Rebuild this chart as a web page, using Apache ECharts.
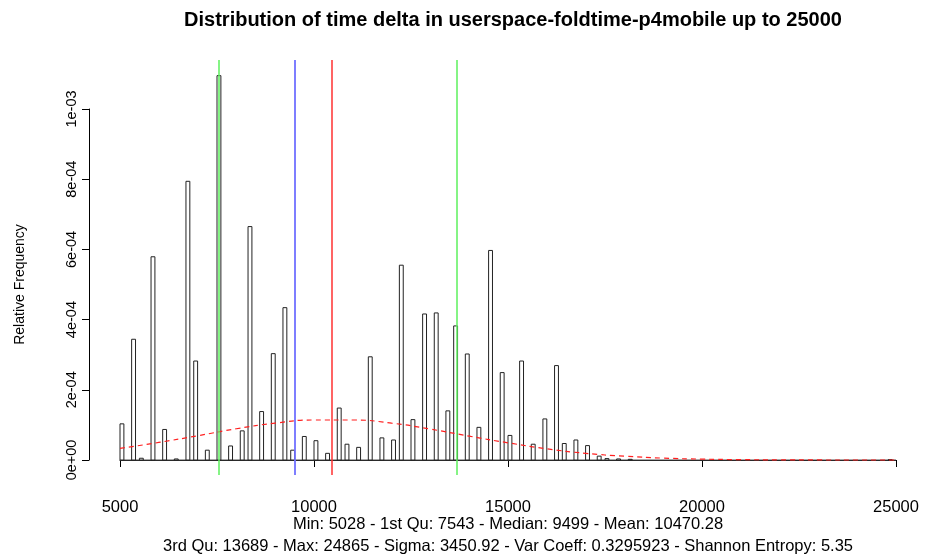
<!DOCTYPE html>
<html>
<head>
<meta charset="utf-8">
<title>Distribution of time delta</title>
<script src="https://cdn.jsdelivr.net/npm/echarts@6/dist/echarts.min.js"></script>
<style>
  html, body { margin: 0; padding: 0; background: #ffffff; }
  #chart { width: 925px; height: 557px; }
</style>
</head>
<body>
<div id="chart"></div>
<script>
// histogram bins (start of bin, relative frequency), bin width 100
const binWidth = 100;
const binStarts = [5000, 5300, 5500, 5800, 6100, 6400, 6700, 6900, 7200, 7500,
  7800, 8100, 8300, 8600, 8900, 9200, 9400, 9700, 10000, 10300,
  10600, 10800, 11100, 11400, 11700, 12000, 12200, 12500, 12800, 13100,
  13400, 13600, 13900, 14200, 14500, 14800, 15000, 15300, 15600, 15900,
  16200, 16400, 16700, 17000, 17300, 17500, 17800, 18100, 24800];
const binValues = [1.03e-4, 3.44e-4, 5e-6, 5.79e-4, 8.7e-5, 3e-6, 7.94e-4, 2.82e-4, 2.8e-5, 1.095e-3,
  4.0e-5, 8.3e-5, 6.65e-4, 1.38e-4, 3.03e-4, 4.34e-4, 2.8e-5, 6.7e-5, 5.5e-5, 1.9e-5,
  1.48e-4, 4.5e-5, 3.6e-5, 2.94e-4, 6.3e-5, 5.7e-5, 5.55e-4, 1.15e-4, 4.16e-4, 4.19e-4,
  1.40e-4, 3.82e-4, 3.02e-4, 9.3e-5, 5.97e-4, 2.49e-4, 7.0e-5, 2.82e-4, 4.5e-5, 1.17e-4,
  2.69e-4, 4.7e-5, 5.7e-5, 4.1e-5, 1.1e-5, 4e-6, 3e-6, 2e-6, 1e-6];
const histRange = [5000, 25000];

// dashed red density curve
const curveX = [5000, 6000, 7000, 8000, 9000, 10000, 11000, 12000, 13000, 14000,
  15000, 16000, 17000, 18000, 19000, 20000, 21000, 22000, 23000, 24000, 25000];
const curveY = [3.3e-5, 5.0e-5, 6.9e-5, 8.9e-5, 1.05e-4, 1.14e-4, 1.14e-4, 1.05e-4, 8.8e-5, 6.8e-5,
  4.9e-5, 3.2e-5, 1.9e-5, 1.1e-5, 5.4e-6, 2.5e-6, 1.1e-6, 4e-7, 1e-7, 0, 0];

// summary statistics lines
const q1 = 7543, median = 9499, mean = 10470.28, q3 = 13689;

const xTicks = [5000, 10000, 15000, 20000, 25000];
const yTickLabels = ['0e+00', '2e-04', '4e-04', '6e-04', '8e-04', '1e-03'];

const titleText = 'Distribution of time delta in userspace-foldtime-p4mobile up to 25000';
const subLine1 = 'Min: 5028 - 1st Qu: 7543 - Median: 9499 - Mean: 10470.28';
const subLine2 = '3rd Qu: 13689 - Max: 24865 - Sigma: 3450.92 - Var Coeff: 0.3295923 - Shannon Entropy: 5.35';

const font = 'Liberation Sans, Arial, Helvetica, sans-serif';
const chart = echarts.init(document.getElementById('chart'));

const histData = binStarts.map((s, i) => [s, binValues[i]]);
const curveData = curveX.map((x, i) => [x, curveY[i]]);

const option = {
  animation: false,
  backgroundColor: '#ffffff',
  textStyle: { fontFamily: font, color: '#000' },
  title: {
    text: titleText,
    left: 508,
    top: 5,
    textAlign: 'center',
    textStyle: { fontFamily: font, fontSize: 20, fontWeight: 'bold', color: '#000' }
  },
  graphic: [
    { type: 'text', x: 508, y: 524, style: { text: subLine1, font: '16.5px ' + font, fill: '#000', align: 'center', verticalAlign: 'middle' } },
    { type: 'text', x: 508, y: 546, style: { text: subLine2, font: '16.5px ' + font, fill: '#000', align: 'center', verticalAlign: 'middle' } }
  ],
  grid: [
    { left: 120, width: 776, top: 60, height: 415 },
    { left: 89, right: 29, top: 109, bottom: 97 }
  ],
  xAxis: [
    {
      type: 'value', gridIndex: 0, min: histRange[0], max: histRange[1], interval: 5000,
      offset: 11,
      axisLine: { show: true, lineStyle: { color: '#000', width: 1 } },
      axisTick: { show: true, length: 7, lineStyle: { color: '#000' } },
      axisLabel: {
        margin: 13, fontSize: 16.5, color: '#000', fontFamily: font,
        formatter: v => xTicks.includes(v) ? String(v) : ''
      },
      splitLine: { show: false }
    },
    { type: 'value', gridIndex: 1, min: histRange[0], max: histRange[1], show: false }
  ],
  yAxis: [
    { type: 'value', gridIndex: 0, min: -4.2735e-5, max: 1.1396e-3, show: false },
    {
      type: 'value', gridIndex: 1, min: 0, max: 1e-3, interval: 2e-4,
      name: 'Relative Frequency', nameLocation: 'middle', nameGap: 62, nameRotate: 90,
      nameTextStyle: { fontSize: 14, color: '#000', fontFamily: font },
      axisLine: { show: true, lineStyle: { color: '#000', width: 1 } },
      axisTick: { show: true, length: 7, lineStyle: { color: '#000' } },
      axisLabel: {
        rotate: 90, margin: 10, fontSize: 14.5, color: '#000', fontFamily: font,
        formatter: v => yTickLabels[Math.round(v / 2e-4)]
      },
      splitLine: { show: false }
    }
  ],
  series: [
    {
      // zero-height bins drawn by hist() form the baseline
      type: 'line', xAxisIndex: 0, yAxisIndex: 0, z: 1,
      data: [[histRange[0], 0], [histRange[1], 0]],
      symbol: 'none', silent: true,
      lineStyle: { color: '#555', width: 1 }
    },
    {
      type: 'custom', xAxisIndex: 0, yAxisIndex: 0, z: 2,
      data: histData,
      renderItem: (params, api) => {
        const start = api.value(0);
        const top = api.coord([start, api.value(1)]);
        const bottom = api.coord([start + binWidth, 0]);
        return {
          type: 'rect',
          shape: { x: top[0], y: top[1], width: bottom[0] - top[0], height: bottom[1] - top[1] },
          style: { fill: '#ffffff', stroke: '#222', lineWidth: 1 }
        };
      }
    },
    {
      type: 'line', xAxisIndex: 0, yAxisIndex: 0, z: 3,
      data: curveData, smooth: true, symbol: 'none', silent: true,
      lineStyle: { color: '#ff2020', width: 1.2, type: [5, 4] }
    },
    {
      type: 'line', xAxisIndex: 0, yAxisIndex: 0, z: 4,
      data: [], silent: true,
      markLine: {
        silent: true, symbol: 'none', label: { show: false },
        data: [
          { xAxis: q1, lineStyle: { color: '#5cf05c', width: 1.5, type: 'solid' } },
          { xAxis: median, lineStyle: { color: '#7070ff', width: 1.8, type: 'solid' } },
          { xAxis: mean, lineStyle: { color: '#ff3030', width: 1.5, type: 'solid' } },
          { xAxis: q3, lineStyle: { color: '#5cf05c', width: 1.5, type: 'solid' } }
        ]
      }
    }
  ]
};

chart.setOption(option);
</script>
</body>
</html>
